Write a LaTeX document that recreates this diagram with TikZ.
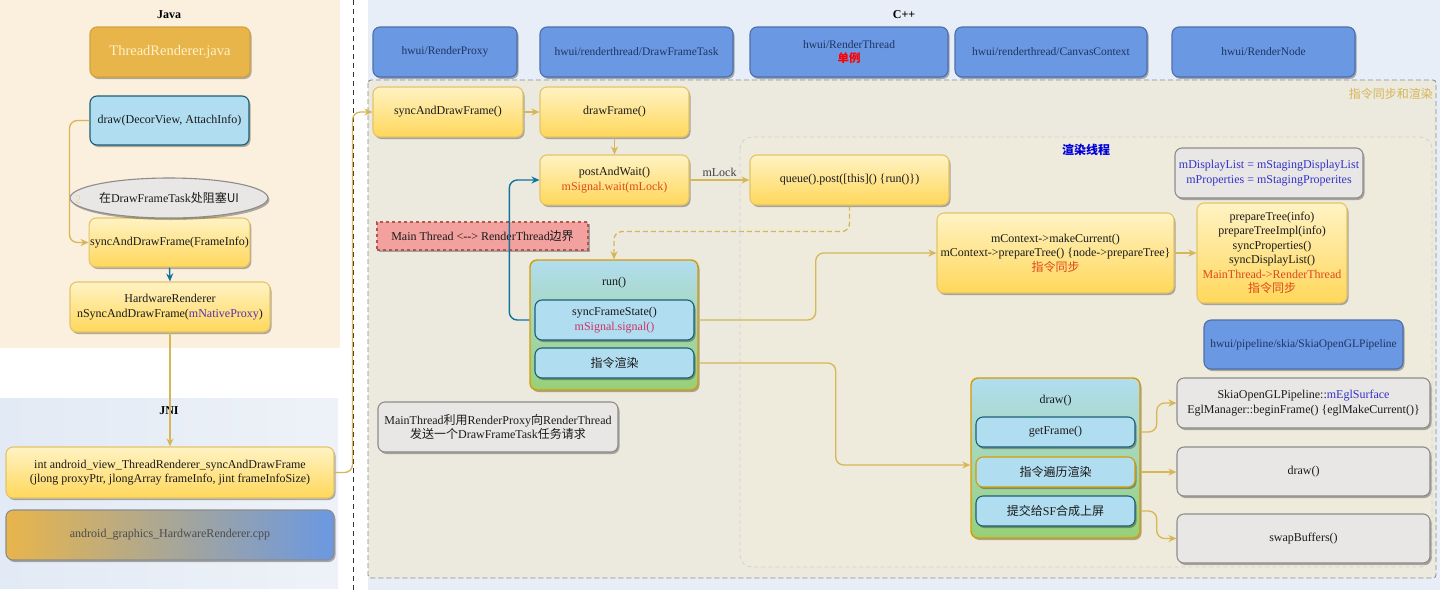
\documentclass[tikz,border=0pt]{standalone}
\usepackage{fontspec}
\setmainfont{Liberation Serif}
\newfontfamily\cjk{Noto Sans CJK SC}
\usetikzlibrary{arrows.meta,shadows,shapes.geometric}
\definecolor{tanc}{HTML}{D6B656}
\definecolor{bluec}{HTML}{10739E}
\definecolor{yelT}{HTML}{FFF3C4}
\definecolor{yelBt}{HTML}{FFD75A}
\definecolor{yelD}{HTML}{E3C46A}
\definecolor{lbF}{HTML}{B1DDF0}
\definecolor{lbD}{HTML}{1B5E78}
\definecolor{grF}{HTML}{E8E7E5}
\definecolor{grD}{HTML}{8C8C8C}
\definecolor{hdF}{HTML}{6A98E2}
\definecolor{hdD}{HTML}{4E6FA8}
\definecolor{hdT}{HTML}{1F3563}
\definecolor{orgF}{HTML}{E8B54B}
\definecolor{orgD}{HTML}{D4A23E}
\definecolor{orgT}{HTML}{FFF1C6}
\definecolor{javabg}{HTML}{FBF0DD}
\definecolor{cppbg}{HTML}{E7EEF8}
\definecolor{jniL}{HTML}{E2EAF5}
\definecolor{jniR}{HTML}{EEF2F8}
\definecolor{outbg}{HTML}{ECE9DE}
\definecolor{inbg}{HTML}{EFEBDC}
\definecolor{redT}{HTML}{E0481B}
\definecolor{pinkT}{HTML}{CC3366}
\definecolor{purT}{HTML}{5A2DB0}
\definecolor{bluT}{HTML}{3232C8}
\definecolor{contD}{HTML}{D79B00}
\definecolor{contG}{HTML}{97D077}
\definecolor{bndF}{HTML}{F2A19E}
\definecolor{bndD}{HTML}{B85450}
\definecolor{txt}{HTML}{1A1A1A}
\tikzset{
 bx/.style={rounded corners=7pt, line width=1.1pt, align=center, inner sep=1pt, text=txt,
   font=\fontsize{12}{14.5}\selectfont,
   drop shadow={shadow xshift=1.5pt,shadow yshift=-2pt,opacity=0.3,fill=black}},
 wh/.style 2 args={minimum width=#1pt, minimum height=#2pt},
 yel/.style={bx, draw=yelD, top color=yelT, bottom color=yelBt},
 lbl/.style={bx, draw=lbD, fill=lbF},
 gry/.style={bx, draw=grD, fill=grF},
 orgb/.style={bx, draw=orgD, fill=orgF, text=orgT, font=\fontsize{14.5}{17}\selectfont},
 hdr/.style={bx, draw=hdD, fill=hdF, text=hdT, font=\fontsize{11.5}{13.5}\selectfont},
 cont/.style={bx, draw=contD, top color=lbF, bottom color=contG, line width=1.4pt},
 tarr/.style={draw=tanc, line width=1.3pt, rounded corners=8pt, -{Stealth[length=8pt,width=7pt]}},
 barr/.style={draw=bluec, line width=1.4pt, rounded corners=8pt, -{Stealth[length=8pt,width=7pt]}},
 ttl/.style={font=\bfseries\fontsize{12}{14}\selectfont, text=black},
 plain/.style={font=\fontsize{12}{14.5}\selectfont, text=txt, inner sep=1pt},
}
\begin{document}
\begin{tikzpicture}[x=1pt,y=-1pt]
\useasboundingbox (0,0) rectangle (1440,590);
\fill[white] (0,0) rectangle (1440,590);
% backgrounds
\fill[javabg] (0,0) rectangle (340,348);
\shade[left color=jniL, right color=jniR] (0,398) rectangle (338,588);
\fill[cppbg] (368,0) rectangle (1440,590);
\draw[dash pattern=on 5pt off 3pt, draw=black!45, line width=0.9pt, fill=outbg, rounded corners=3pt] (368,80) rectangle (1436,578);
\draw[dash pattern=on 4pt off 3pt, draw=black!18, line width=0.8pt, fill=inbg, rounded corners=12pt] (740,137) rectangle (1432,567);
\draw[black!80, dash pattern=on 5pt off 4pt, line width=1pt] (353,0) -- (353,590);

% titles
\node[ttl] (tJava) at (169,15) {Java};
\node[ttl] (tJNI) at (169,411) {JNI};
\node[ttl] (tCpp) at (904,15) {C++};
\node[text=tanc, font=\cjk\fontsize{12}{14}\selectfont, anchor=east, inner sep=1pt] (tSync) at (1434,94) {指令同步和渲染};
\node[text=blue!85!black, font=\cjk\bfseries\fontsize{12}{14}\selectfont, inner sep=1pt] (tRT) at (1086,150) {渲染线程};

% Java column
\node[orgb, wh={160}{50}] (tr) at (170,52) {ThreadRenderer.java};
\node[lbl, wh={159}{49}] (dv) at (169.5,120.5) {draw(DecorView, AttachInfo)};
\node[yel, wh={159}{49}] (sdf) at (169.5,242.5) {syncAndDrawFrame(FrameInfo)};
\node[ellipse, draw=grD, fill=grF, line width=1.1pt, minimum width=160pt, minimum height=40pt, inner sep=0pt,
  font=\fontsize{12}{14.5}\selectfont, text=txt,
  drop shadow={shadow xshift=1.5pt,shadow yshift=-2pt,opacity=0.3,fill=black}] (el) at (169,198) {{\cjk 在}DrawFrameTask{\cjk 处阻塞UI}};
\node[yel, wh={200}{50}] (hr) at (170,307) {HardwareRenderer\\nSyncAndDrawFrame(\textcolor{purT}{mNativeProxy})};
\node[yel, wh={328}{51}] (jni) at (170,472.5) {int android\_view\_ThreadRenderer\_syncAndDrawFrame\\(jlong proxyPtr, jlongArray frameInfo, jint frameInfoSize)};
\node[bx, draw=grD, left color=orgF, right color=hdF, text=black!70, wh={328}{50}] (cpp) at (170,535) {android\_graphics\_HardwareRenderer.cpp};
\node[text=tanc!55, font=\fontsize{12}{14}\selectfont, inner sep=0pt] (n2) at (78,200) {2};

% headers
\node[hdr, wh={144}{50}] (h1) at (445,52) {hwui/RenderProxy};
\node[hdr, wh={193}{50}] (h2) at (636.5,52) {hwui/renderthread/DrawFrameTask};
\node[hdr, wh={198}{50}] (h3) at (849,52) {hwui/RenderThread\\{\cjk\bfseries\textcolor{red}{单例}}};
\node[hdr, wh={192}{50}] (h4) at (1051,52) {hwui/renderthread/CanvasContext};
\node[hdr, wh={183}{50}] (h5) at (1263.5,52) {hwui/RenderNode};

% C++ main flow
\node[yel, wh={150}{50}] (s1) at (448,112) {syncAndDrawFrame()};
\node[yel, wh={149}{50}] (s2) at (614.5,112) {drawFrame()};
\node[yel, wh={149}{50}] (paw) at (614.5,180) {postAndWait()\\\textcolor{redT}{mSignal.wait(mLock)}};
\node[yel, wh={199}{50}] (q) at (849.5,180) {queue().post([this]() \{run()\})};
\node[bx, rounded corners=0pt, draw=bndD, dashed, fill=bndF, wh={211}{28}] (bnd) at (482.5,236) {Main Thread <{-}{-}> RenderThread{\cjk 边界}};
\node[cont, wh={168}{130}] (run) at (614,325) {};
\node[plain] (runl) at (614,283) {run()};
\node[lbl, wh={159}{40}] (sfs) at (614.5,320) {syncFrameState()\\\textcolor{pinkT}{mSignal.signal()}};
\node[lbl, wh={159}{30}] (zl) at (614.5,363) {{\cjk 指令渲染}};
\node[gry, wh={240}{50}] (note) at (498,427) {MainThread{\cjk 利用}RenderProxy{\cjk 向}RenderThread\\{\cjk 发送一个}DrawFrameTask{\cjk 任务请求}};

\node[yel, wh={237}{80}] (mc) at (1055.5,253) {mContext->makeCurrent()\\mContext->prepareTree() \{node->prepareTree\}\\\textcolor{redT}{\cjk 指令同步}};
\node[gry, wh={188}{50}, text=bluT] (md) at (1269,173) {mDisplayList = mStagingDisplayList\\mProperties = mStagingProperites};
\node[yel, wh={150}{100}] (pt) at (1272,253) {prepareTree(info)\\prepareTreeImpl(info)\\syncProperties()\\syncDisplayList()\\\textcolor{redT}{MainThread->RenderThread}\\\textcolor{redT}{\cjk 指令同步}};
\node[hdr, wh={199}{49}] (sk) at (1303.5,344.5) {hwui/pipeline/skia/SkiaOpenGLPipeline};

\node[cont, wh={169}{160}] (dr) at (1055.5,458) {};
\node[plain] (drl) at (1055.5,401) {draw()};
\node[lbl, wh={159}{30}] (gf) at (1055.5,432) {getFrame()};
\node[lbl, draw=contD, wh={159}{30}] (bl) at (1055.5,472) {{\cjk 指令遍历渲染}};
\node[lbl, wh={159}{30}] (sf) at (1055.5,511) {{\cjk 提交给}SF{\cjk 合成上屏}};
\node[gry, wh={253}{50}] (eg) at (1303.5,403) {SkiaOpenGLPipeline::\textcolor{bluT}{mEglSurface}\\EglManager::beginFrame() \{eglMakeCurrent()\}};
\node[gry, wh={253}{49}] (dg) at (1303.5,471.5) {draw()};
\node[gry, wh={253}{49}] (sw) at (1303.5,538.5) {swapBuffers()};

% connectors
\draw[tarr] (dv.west) -- ++(-20,0) |- (sdf.west);
\draw[barr] (sdf.south) -- (hr.north);
\draw[tarr] (hr.south) -- (jni.north);
\draw[tarr] (jni.east) -- ++(18,0) |- (s1.west);
\draw[tarr] (s1.east) -- (s2.west);
\draw[tarr] (s2.south) -- (paw.north);
\draw[tarr] (paw.east) -- node[plain, above=2pt, text=black!75] (ml) {mLock} (q.west);
\draw[tarr, dash pattern=on 5pt off 3pt] (q.south) -- ++(0,26) -| (run.north);
\draw[barr] (sfs.west -| run.west) -- ++(-20,0) |- (paw.west);
\draw[tarr] (sfs.east -| run.east) -- ++(117,0) |- (mc.west);
\draw[tarr] (zl.east -| run.east) -- ++(137,0) |- ([yshift=-7pt]dr.west);
\draw[tarr] (mc.east) -- (pt.west);
\draw[tarr] (gf.east -| dr.east) -- ++(16,0) |- (eg.west);
\draw[tarr] (bl.east -| dr.east) -- (dg.west |- bl.east);
\draw[tarr] (sf.east -| dr.east) -- ++(16,0) |- (sw.west);
\end{tikzpicture}
\end{document}
